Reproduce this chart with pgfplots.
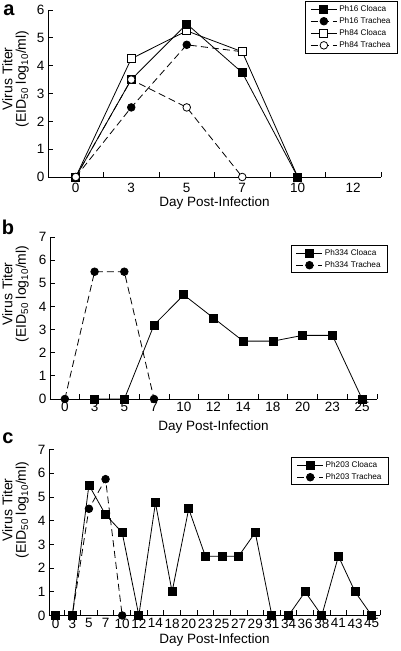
\documentclass[border=0pt]{standalone}
\usepackage{pgfplots}
\pgfplotsset{compat=1.18}
\usepackage{fontspec}
\setmainfont{Liberation Sans}

\pgfplotsset{
  panel/.style={
    scale only axis, anchor=south west, clip=false,
    axis x line*=bottom, axis y line*=left,
    axis line style={-, line width=0.8pt, black},
    ymin=0,
    /pgf/number format/assume math mode=true,
    tick align=inside,
    major tick length=5pt, minor tick length=5pt,
    every tick/.style={black, line width=0.8pt},
    every major x tick/.append style={draw=none},
    ticklabel style={font=\fontsize{13.5}{13.5}\selectfont},
    xticklabel style={inner sep=2pt},
    legend cell align=left,
    legend style={draw=black, line width=1pt, fill=white,
      font=\fontsize{8.2}{9}\selectfont, inner xsep=5pt, inner ysep=2pt,
      row sep=0.6pt, anchor=north east,
      /tikz/every even column/.append style={column sep=1pt}},
    legend image code/.code={\draw[mark repeat=2,mark phase=2,#1] plot coordinates {(0pt,0pt) (13pt,0pt) (26pt,0pt)};},
  },
  solidsq/.style={black, line width=0.8pt, mark=square*, mark size=4pt, mark options={solid, fill=black}},
  opensq/.style={black, line width=0.8pt, mark=square*, mark size=4pt, mark options={solid, fill=white}},
  dashci/.style={black, line width=0.8pt, dash pattern=on 7pt off 4pt, mark=*, mark size=3.8pt, mark options={solid, fill=black}},
  dashoc/.style={black, line width=0.8pt, dash pattern=on 7pt off 4pt, mark=*, mark size=3.8pt, mark options={solid, fill=white}},
}

\begin{document}
\begin{tikzpicture}
\useasboundingbox (0,0) rectangle (400pt,651pt);

% ---------- panel a ----------
\begin{axis}[panel, at={(48pt,474pt)}, width=333pt, height=167pt,
  xmin=-0.5, xmax=5.5, ymax=6, ytick={0,...,6},
  xtick={0,...,5}, xticklabels={0,3,5,7,10,12},
  minor xtick={-0.5,0.5,1.5,2.5,3.5,4.5,5.5},
  xticklabel style={yshift=-4pt},
  legend style={at={(rel axis cs:1.051,1.054)}}]
\addplot[dashci, forget plot] coordinates {(0,0) (1,2.5) (2,4.75) (3,4.5)};
\addplot[opensq, forget plot] coordinates {(0,0) (1,4.25) (2,5.25) (3,4.5) (4,0)};
\addplot[solidsq, forget plot] coordinates {(0,0) (1,3.5) (2,5.5) (3,3.75) (4,0)};
\addplot[dashoc, forget plot] coordinates {(0,0) (1,3.5) (2,2.5) (3,0)};
\addlegendimage{solidsq}
\addlegendimage{dashci}
\addlegendimage{opensq}
\addlegendimage{dashoc}
\legend{Ph16 Cloaca, Ph16 Trachea, Ph84 Cloaca, Ph84 Trachea}
\end{axis}

% ---------- panel b ----------
\begin{axis}[panel, at={(50pt,252pt)}, width=327pt, height=162pt,
  xmin=-0.5, xmax=10.5, ymax=7, ytick={0,...,7},
  xtick={0,...,10}, xticklabels={0,3,5,7,10,12,14,18,20,23,25},
  minor xtick={-0.5,0.5,...,10.5},
  xticklabel style={yshift=-1pt},
  legend style={at={(rel axis cs:1.034,0.951)}}]
\addplot[solidsq, forget plot] coordinates {(1,0) (2,0) (3,3.2) (4,4.5) (5,3.5) (6,2.5) (7,2.5) (8,2.75) (9,2.75) (10,0)};
\addplot[dashci, forget plot] coordinates {(0,0) (1,5.5) (2,5.5) (3,0)};
\addlegendimage{solidsq}
\addlegendimage{dashci}
\legend{Ph334 Cloaca, Ph334 Trachea}
\end{axis}

% ---------- panel c ----------
\begin{axis}[panel, at={(49pt,35.5pt)}, width=331pt, height=166pt,
  xmin=-0.4, xmax=19.5, ymax=7, ytick={0,...,7},
  xtick={0,...,19}, xticklabels={0,3,5,7,10,12,14,18,20,23,25,27,29,31,34,36,38,41,43,45},
  minor xtick={0.5,1.5,...,19.5},
  xticklabel style={yshift=-1pt},
  legend style={at={(rel axis cs:1.027,0.955)}}]
\addplot[dashci, forget plot] coordinates {(0,0) (1,0) (2,4.5) (3,5.75) (4,0)};
\addplot[solidsq, forget plot] coordinates {(0,0) (1,0) (2,5.5) (3,4.25) (4,3.5) (5,0) (6,4.75) (7,1) (8,4.5) (9,2.5) (10,2.5) (11,2.5) (12,3.5) (13,0) (14,0) (15,1) (16,0) (17,2.5) (18,1) (19,0)};
\addlegendimage{solidsq}
\addlegendimage{dashci}
\legend{Ph203 Cloaca, Ph203 Trachea}
\end{axis}

% ---------- text ----------
\node[font=\bfseries\fontsize{20}{20}\selectfont] at (9pt,641pt) {a};
\node[font=\bfseries\fontsize{20}{20}\selectfont] at (8pt,424pt) {b};
\node[font=\bfseries\fontsize{20}{20}\selectfont] at (8pt,213pt) {c};

\node[rotate=90, align=center, font=\fontsize{14}{13.5}\selectfont] at (15.5pt,572pt) {Virus Titer\\(EID\textsubscript{50} log\textsubscript{10}/ml)};
\node[rotate=90, align=center, font=\fontsize{14}{13.5}\selectfont] at (15.5pt,357pt) {Virus Titer\\(EID\textsubscript{50} log\textsubscript{10}/ml)};
\node[rotate=90, align=center, font=\fontsize{14}{13.5}\selectfont] at (15.5pt,141pt) {Virus Titer\\(EID\textsubscript{50} log\textsubscript{10}/ml)};

\node[font=\fontsize{13.5}{13.5}\selectfont, inner sep=1pt] at (214.5pt,448pt) {Day Post-Infection};
\node[font=\fontsize{13.5}{13.5}\selectfont, inner sep=1pt] at (213.5pt,224pt) {Day Post-Infection};
\node[font=\fontsize{13.5}{13.5}\selectfont, inner sep=1pt] at (214.5pt,11pt) {Day Post-Infection};
\end{tikzpicture}
\end{document}
